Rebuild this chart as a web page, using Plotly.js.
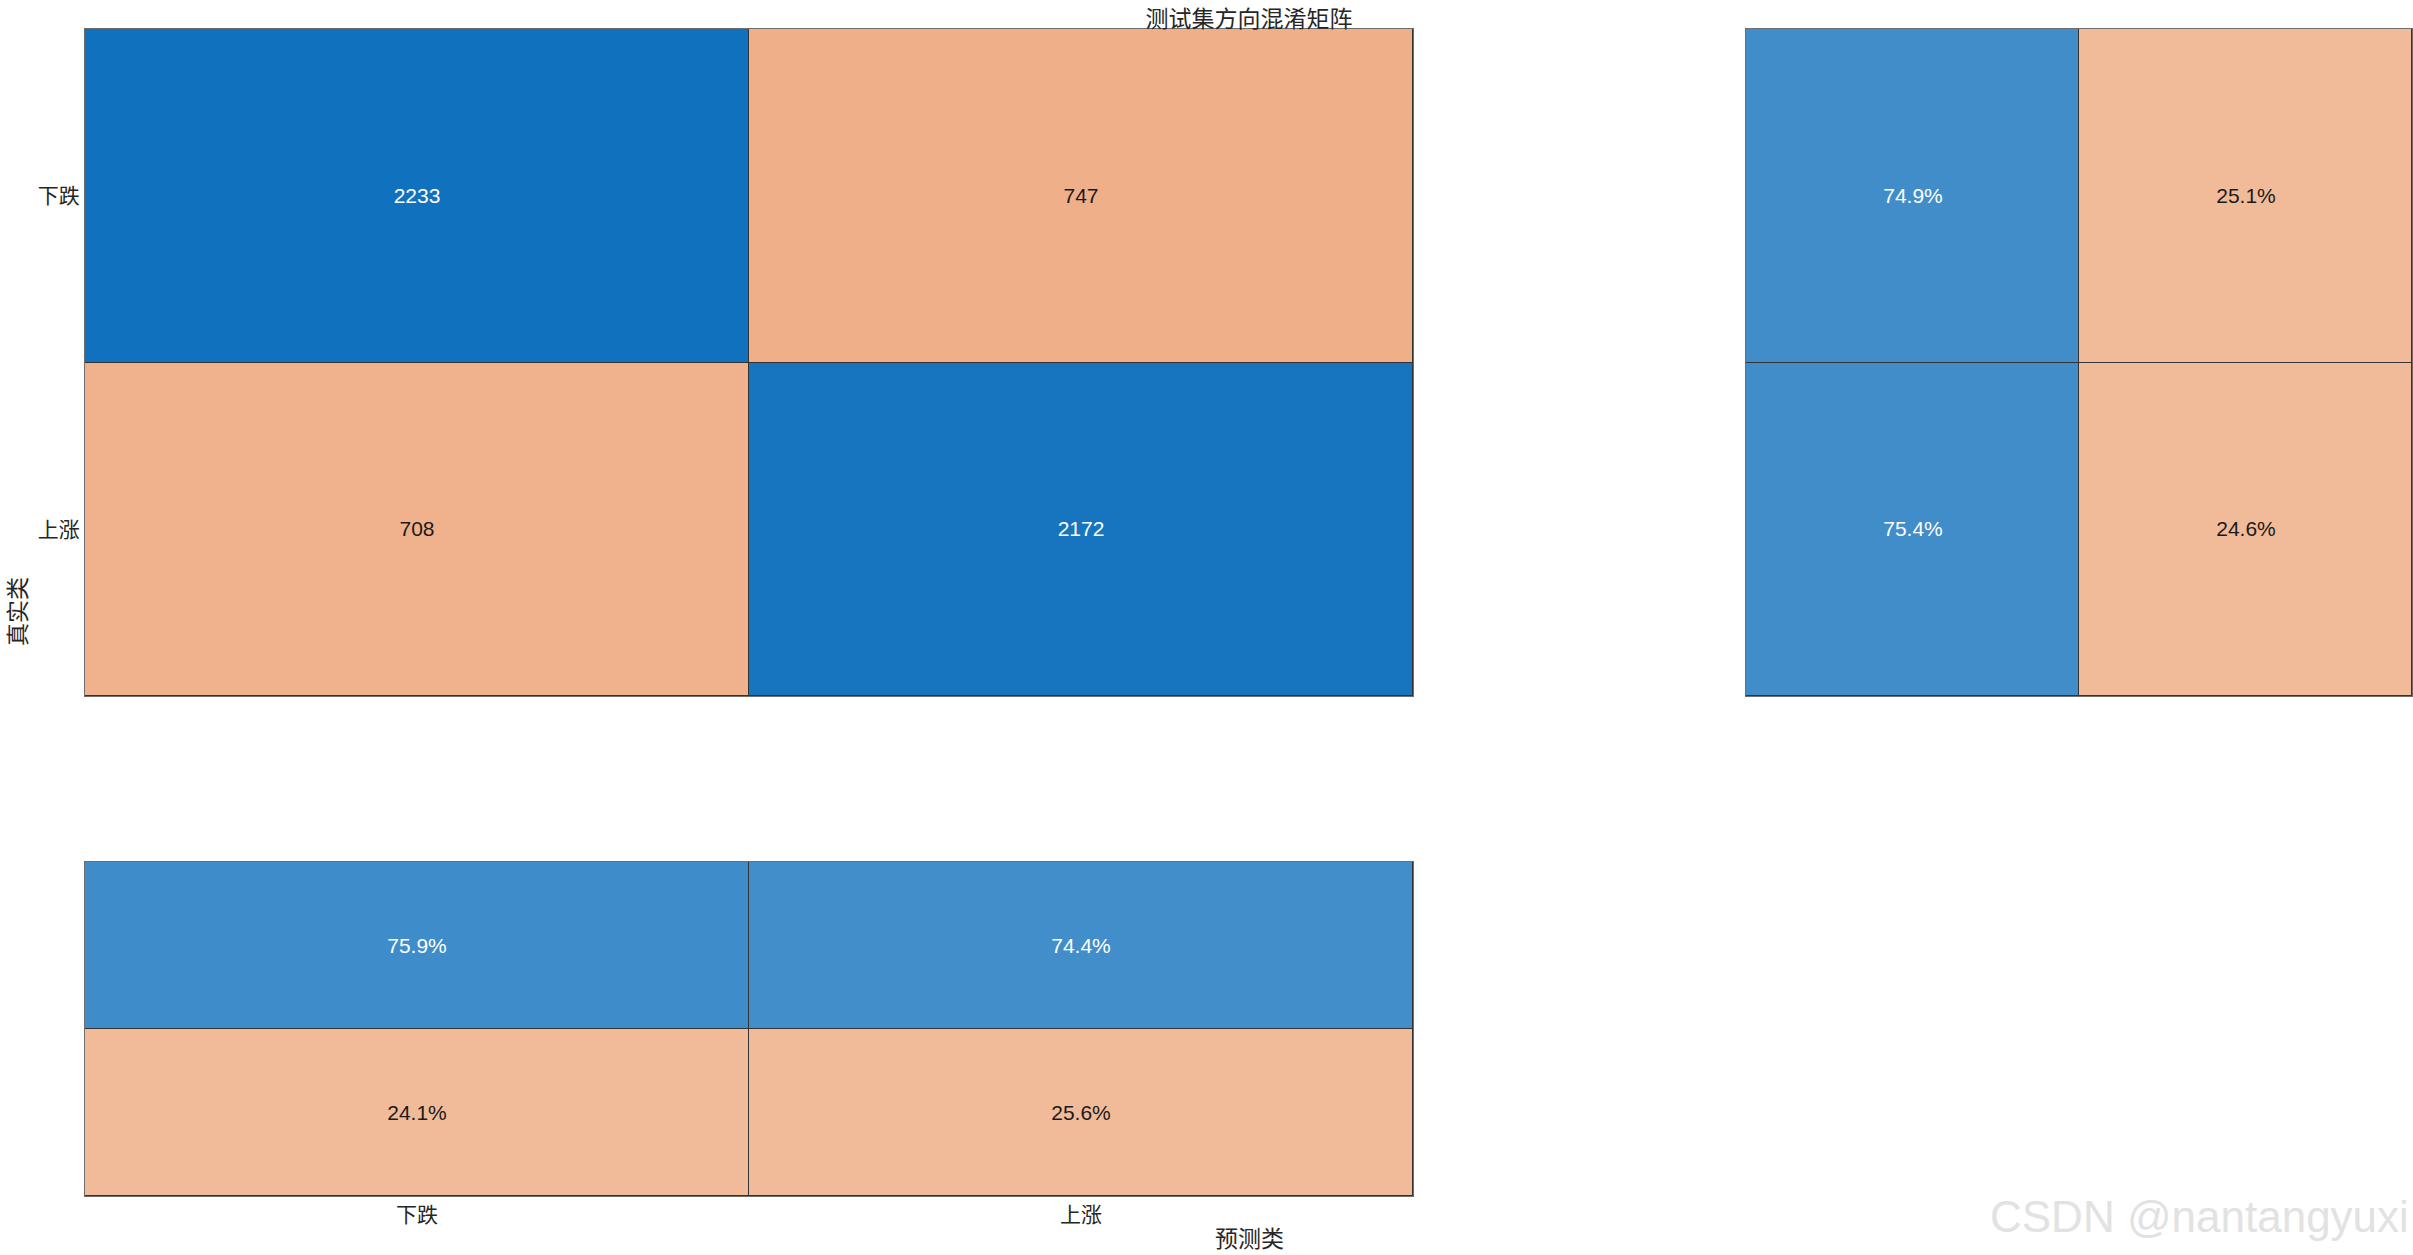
<!DOCTYPE html>
<html>
<head>
<meta charset="utf-8">
<script src="https://cdn.plot.ly/plotly-3.0.1.min.js"></script>
<style>html,body{margin:0;padding:0;background:#fff;}#chart{width:2413px;height:1255px;}</style>
</head>
<body>
<div id="chart"></div>
<script>
// ---- data ----
const classes = ['下跌', '上涨'];
const counts = [[2233, 747], [708, 2172]];          // rows: true class, cols: predicted class
const rowSummaryLabels = ['正确', '错误'];
const rowSummary = [[74.9, 25.1], [75.4, 24.6]];    // per true class: correct %, incorrect %
const colSummaryLabels = ['正确', '错误'];
const colSummary = [[75.9, 74.4], [24.1, 25.6]];    // rows: correct %, incorrect %; cols: predicted class
const titleText = '测试集方向混淆矩阵';
const xLabelText = '预测类';
const yLabelText = '真实类';
const watermark = 'CSDN @nantangyuxi';

// ---- styling ----
const W = 2413, H = 1255;
const cjk = '"Noto Sans CJK SC", "Noto Sans", sans-serif';
const num = '"Liberation Sans", Arial, sans-serif';
const darkText = '#262626';
const px = v => v / W, py = v => 1 - v / H;

function split(mat, pick) {
  return mat.map((row, i) => row.map((v, j) => pick(i, j) ? v : null));
}
function labels(mat, fmt) {
  return mat.map(row => row.map(v => v === null ? '' : fmt(v)));
}
const fmtCount = v => String(v);
const fmtPct = v => v.toFixed(1) + '%';

function hm(xa, ya, x, y, z, fmt, cs, zmin, zmax, txtColor) {
  return {
    type: 'heatmap', xaxis: xa, yaxis: ya, x: x, y: y, z: z,
    text: labels(z, fmt), texttemplate: '%{text}',
    textfont: {family: num, size: 21, color: txtColor},
    colorscale: cs, zmin: zmin, zmax: zmax, showscale: false,
    xgap: 1, ygap: 1, hoverinfo: 'skip'
  };
}

const diag = split(counts, (i, j) => i === j);
const off = split(counts, (i, j) => i !== j);
const rCorrect = split(rowSummary, (i, j) => j === 0);
const rWrong = split(rowSummary, (i, j) => j === 1);
const cCorrect = split(colSummary, (i, j) => i === 0);
const cWrong = split(colSummary, (i, j) => i === 1);

const blueCS = [[0, '#1775BF'], [1, '#1071BE']];
const orangeCS = [[0, '#F0B28C'], [1, '#EFAF89']];
const sBlueCS = [[0, '#428ECA'], [1, '#3F8CCA']];
const sOrangeCS = [[0, '#F1BB99'], [1, '#F1BA98']];

const traces = [
  hm('x', 'y', classes, classes, diag, fmtCount, blueCS, 2172, 2233, '#ffffff'),
  hm('x', 'y', classes, classes, off, fmtCount, orangeCS, 708, 747, '#1a1a1a'),
  hm('x2', 'y2', rowSummaryLabels, classes, rCorrect, fmtPct, sBlueCS, 74.4, 75.9, '#ffffff'),
  hm('x2', 'y2', rowSummaryLabels, classes, rWrong, fmtPct, sOrangeCS, 24.1, 25.6, '#1a1a1a'),
  hm('x3', 'y3', classes, colSummaryLabels, cCorrect, fmtPct, sBlueCS, 74.4, 75.9, '#ffffff'),
  hm('x3', 'y3', classes, colSummaryLabels, cWrong, fmtPct, sOrangeCS, 24.1, 25.6, '#1a1a1a')
];

const axBase = {
  showline: true, mirror: true, linecolor: '#6e6e6e', linewidth: 1,
  showgrid: false, zeroline: false, ticks: '', fixedrange: true,
  tickfont: {family: cjk, size: 21, color: darkText}
};
const mainX = [px(85), px(1413)];
const rightX = [px(1746), px(2412)];
const topY = [py(696), py(29)];
const botY = [py(1196), py(862)];

const layout = {
  width: W, height: H,
  margin: {l: 0, r: 0, t: 0, b: 0},
  paper_bgcolor: '#ffffff', plot_bgcolor: '#333333',
  showlegend: false,
  title: {
    text: titleText, x: px(1249), xanchor: 'center', y: 1 - 19 / H, yanchor: 'middle',
    font: {family: cjk, size: 23, color: darkText}
  },
  xaxis: Object.assign({}, axBase, {domain: mainX, anchor: 'y', showticklabels: false}),
  yaxis: Object.assign({}, axBase, {domain: topY, anchor: 'x', autorange: 'reversed'}),
  xaxis2: Object.assign({}, axBase, {domain: rightX, anchor: 'y2', showticklabels: false}),
  yaxis2: Object.assign({}, axBase, {domain: topY, anchor: 'x2', autorange: 'reversed', showticklabels: false}),
  xaxis3: Object.assign({}, axBase, {domain: mainX, anchor: 'y3'}),
  yaxis3: Object.assign({}, axBase, {domain: botY, anchor: 'x3', autorange: 'reversed', showticklabels: false}),
  annotations: [
    {text: xLabelText, xref: 'paper', yref: 'paper', x: px(1249), y: py(1237), xanchor: 'center', yanchor: 'middle',
     showarrow: false, borderpad: 0, font: {family: cjk, size: 23, color: darkText}},
    {text: yLabelText, xref: 'paper', yref: 'paper', x: px(16), y: py(612), xanchor: 'center', yanchor: 'middle',
     textangle: -90, showarrow: false, borderpad: 0, font: {family: cjk, size: 23, color: darkText}},
    {text: watermark, xref: 'paper', yref: 'paper', x: px(2411), y: py(1216), xanchor: 'right', yanchor: 'middle',
     showarrow: false, font: {family: num, size: 44, color: '#e2e2e2'}}
  ]
};

Plotly.newPlot('chart', traces, layout, {staticPlot: true, displayModeBar: false});
</script>
</body>
</html>
